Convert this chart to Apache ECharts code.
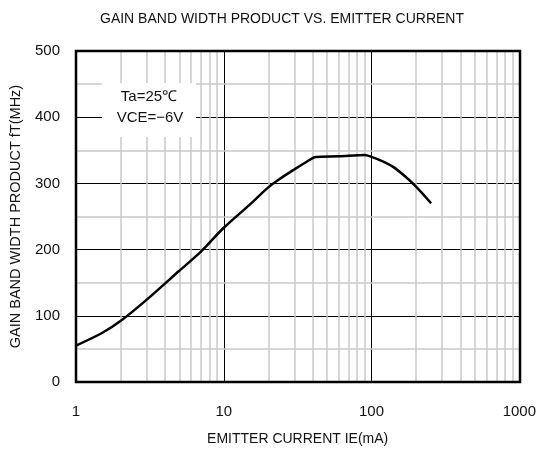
<!DOCTYPE html>
<html>
<head>
<meta charset="utf-8">
<script src="https://cdn.jsdelivr.net/npm/echarts@6/dist/echarts.min.js"></script>
<style>
html,body{margin:0;padding:0;background:#fff;}
#c{width:539px;height:454px;}
</style>
</head>
<body>
<div id="c"></div>
<script>
// Data
var currentMA = [1, 1.5, 2, 3, 5, 7, 10, 15, 20, 24, 30, 36, 42, 60, 90, 100, 120, 140, 170, 200, 253];
var ftMHz =     [55, 74, 92, 124, 168, 197, 233, 268, 294, 307, 321, 332, 340, 341, 343, 340, 333, 325, 310, 295, 270];
var xMinorTicks = [2,3,4,5,6,7,8,9,20,30,40,50,60,70,80,90,200,300,400,500,600,700,800,900];
var yMinorTicks = [50,150,250,350,450];
var titleText = 'GAIN BAND WIDTH PRODUCT VS. EMITTER CURRENT';
var xName = 'EMITTER CURRENT IE(mA)';
var yName = 'GAIN BAND WIDTH PRODUCT fT(MHz)';
var noteLines = ['Ta=25\u2103', 'VCE=\u22126V'];

var FONT = '"Liberation Sans", Arial, sans-serif';
var chart = echarts.init(document.getElementById('c'), null, {renderer: 'canvas'});

var points = currentMA.map(function (x, i) { return [x, ftMHz[i]]; });
var minorLines = xMinorTicks.map(function (v) { return {xAxis: v}; })
  .concat(yMinorTicks.map(function (v) { return {yAxis: v}; }));

chart.setOption({
  animation: false,
  backgroundColor: '#fff',
  title: {
    text: titleText,
    left: 277, top: 7, textAlign: 'center',
    textStyle: {fontFamily: FONT, fontSize: 14, fontWeight: 'normal', color: '#111'}
  },
  grid: {left: 76, right: 19, top: 51, bottom: 72, show: false},
  xAxis: {
    type: 'log', logBase: 10, min: 1, max: 1000,
    name: xName, nameLocation: 'middle', nameGap: 50,
    nameTextStyle: {fontFamily: FONT, fontSize: 14, color: '#111'},
    axisLine: {show: false},
    axisTick: {show: false},
    axisLabel: {fontFamily: FONT, fontSize: 15, color: '#111', margin: 22,
      formatter: function (v) { return String(v); }},
    splitLine: {show: true, lineStyle: {color: '#000', width: 1}},
    minorTick: {show: false}, minorSplitLine: {show: false}
  },
  yAxis: {
    type: 'value', min: 0, max: 500, interval: 100,
    name: yName, nameLocation: 'middle', nameGap: 53, nameRotate: 90,
    nameTextStyle: {fontFamily: FONT, fontSize: 14.5, color: '#111'},
    axisLine: {show: false},
    axisTick: {show: false},
    axisLabel: {fontFamily: FONT, fontSize: 15, color: '#111', margin: 16},
    splitLine: {show: true, lineStyle: {color: '#000', width: 1}}
  },
  series: [
    {
      type: 'line', data: [], silent: true,
      markLine: {
        silent: true, symbol: 'none', label: {show: false},
        lineStyle: {color: '#c8c8c8', width: 1.5, type: 'solid'},
        data: minorLines, animation: false
      },
      z: 1
    },
    {
      type: 'line', data: points, smooth: 0.3, showSymbol: false, symbol: 'none',
      lineStyle: {color: '#000', width: 2.5}, z: 5
    }
  ],
  graphic: [
    {
      type: 'rect', left: 102, top: 83, z: 10,
      shape: {width: 94, height: 54},
      style: {fill: '#fff'}
    },
    {
      type: 'text', x: 149, y: 97, z: 11,
      style: {
        text: noteLines[0], fill: '#111', font: '15px ' + FONT,
        textAlign: 'center', textVerticalAlign: 'middle'
      }
    },
    {
      type: 'text', x: 150, y: 118, z: 11,
      style: {
        text: noteLines[1], fill: '#111', font: '15px ' + FONT,
        textAlign: 'center', textVerticalAlign: 'middle'
      }
    },
    {
      type: 'rect', z: 12, x: 76, y: 51,
      shape: {x: 0, y: 0, width: 444, height: 331},
      style: {fill: 'none', stroke: '#000', lineWidth: 2.5}
    }
  ]
});
</script>
</body>
</html>
